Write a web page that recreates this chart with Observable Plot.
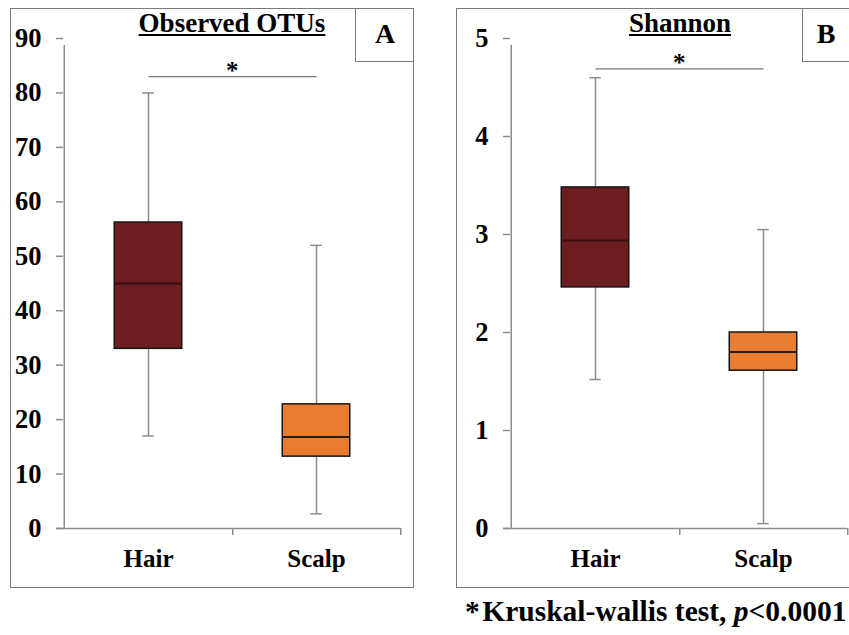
<!DOCTYPE html>
<html><head><meta charset="utf-8">
<script src="https://cdn.jsdelivr.net/npm/d3@7"></script>
<script src="https://cdn.jsdelivr.net/npm/@observablehq/plot@0.6"></script>
<style>
body{margin:0;background:#fff;}
#wrap{position:relative;width:849px;height:635px;overflow:hidden;font-family:"Liberation Serif","Times New Roman",serif;font-weight:bold;color:#000;}
.panel{position:absolute;border:1.5px solid #7a7a7a;box-sizing:border-box;}
.tag{position:absolute;border-left:1.5px solid #7a7a7a;border-bottom:1.5px solid #7a7a7a;box-sizing:border-box;font-size:28px;line-height:52px;text-align:center;}
.title{position:absolute;font-size:27px;line-height:27px;text-decoration:underline;white-space:nowrap;transform:translateX(-50%);}
.plot{position:absolute;top:0;}
.plot svg text{font-family:"Liberation Serif","Times New Roman",serif;}
#caption{position:absolute;left:465px;top:597px;font-size:29.5px;line-height:29.5px;white-space:nowrap;}
</style></head><body>
<div id="wrap">
  <div class="panel" style="left:10px;top:8px;width:404px;height:580px;"></div>
  <div class="panel" style="left:456px;top:8px;width:400px;height:580px;"></div>
  <div id="plotA" class="plot" style="left:0px;"></div>
  <div id="plotB" class="plot" style="left:430px;"></div>
  <div class="title" style="left:232px;top:10px;">Observed OTUs</div>
  <div class="title" style="left:680px;top:10px;">Shannon</div>
  <div class="tag" style="left:355px;top:8px;width:59px;height:54px;">A</div>
  <div class="tag" style="left:802px;top:8px;width:47px;height:54px;">B</div>
  <div id="caption">*&#8202;Kruskal-wallis test, <i>p</i>&lt;0.0001</div>
</div>
<script>
// ---- data ----
const categories = ["Hair", "Scalp"];
const boxFill = ["#6b1d1f", "#e87d31"];
const medianStroke = ["#3a0f10", "#2a1a10"];

// Observed OTUs (panel A)
const otuMin = [17, 2.7];
const otuQ1 = [33, 13.2];
const otuMed = [45, 16.8];
const otuQ3 = [56.2, 22.8];
const otuMax = [80, 52];
const otuTicks = [0, 10, 20, 30, 40, 50, 60, 70, 80, 90];
const otuSig = 83;

// Shannon (panel B)
const shMin = [1.52, 0.05];
const shQ1 = [2.46, 1.61];
const shMed = [2.94, 1.80];
const shQ3 = [3.48, 2.00];
const shMax = [4.6, 3.05];
const shTicks = [0, 1, 2, 3, 4, 5];
const shSig = 4.69;

const serif = "'Liberation Serif', 'Times New Roman', serif";

function panel(el, {min, q1, med, q3, max, ticks, sig, width, marginLeft, marginRight}) {
  const rows = categories.map((c, i) => ({cat: c, min: min[i], q1: q1[i], med: med[i], q3: q3[i], max: max[i], fill: boxFill[i], med2: medianStroke[i]}));
  const bw = (width - marginLeft - marginRight) / categories.length;
  const half = bw / 2;
  const boxInset = half - 34;
  const capInset = half - 6;
  const yDomain = [ticks[0], ticks[ticks.length - 1]];
  const grey = "#8c8c8c";
  const chart = Plot.plot({
    width, height: 600, marginLeft, marginRight, marginTop: 38, marginBottom: 72,
    style: {fontFamily: serif, fontSize: "25px", fontWeight: "bold", background: "transparent", overflow: "visible", color: "#000"},
    x: {domain: categories, padding: 0, axis: null, label: null},
    y: {domain: yDomain, axis: null, label: null},
    marks: [
      // axis lines and boundary ticks
      Plot.ruleY([yDomain[0]], {stroke: grey, strokeWidth: 1.5, insetLeft: -7}),
      Plot.ruleX([categories[0]], {x: d => d, y1: yDomain[0], y2: yDomain[1], dx: -half, stroke: grey, strokeWidth: 1.5, insetBottom: -7}),
      Plot.ruleX(categories, {x: d => d, y1: yDomain[0], y2: yDomain[0], dx: half, stroke: grey, strokeWidth: 1.5, insetBottom: -7}),
      Plot.axisY(ticks, {tickSize: 7, tickPadding: 15, tickFormat: d => String(d), label: null, stroke: grey, strokeWidth: 1.5, fill: "#000", fontSize: 26.5, fontWeight: "bold", fontFamily: serif}),
      Plot.axisX({tickSize: 0, tickPadding: 21, label: null, fill: "#000", fontSize: 25, fontWeight: "bold", fontFamily: serif}),
      // whiskers
      Plot.ruleX(rows, {x: "cat", y1: "min", y2: "max", stroke: grey, strokeWidth: 1.5}),
      Plot.tickY(rows, {x: "cat", y: "min", stroke: grey, strokeWidth: 1.5, insetLeft: capInset, insetRight: capInset}),
      Plot.tickY(rows, {x: "cat", y: "max", stroke: grey, strokeWidth: 1.5, insetLeft: capInset, insetRight: capInset}),
      // boxes
      Plot.barY(rows, {x: "cat", y1: "q1", y2: "q3", fill: "fill", stroke: "#141414", strokeWidth: 1.5, insetLeft: boxInset, insetRight: boxInset}),
      Plot.tickY(rows, {x: "cat", y: "med", stroke: "med2", strokeWidth: 2, insetLeft: boxInset, insetRight: boxInset}),
      // significance
      Plot.link([sig], {x1: () => categories[0], x2: () => categories[1], y1: d => d, y2: d => d, stroke: "#777", strokeWidth: 1.2}),
      Plot.text([sig], {x: () => categories[1], y: d => d, dx: -half, dy: -6, text: () => "*", fontSize: 25, fontWeight: "bold", fontFamily: serif, fill: "#000"})
    ]
  });
  document.getElementById(el).appendChild(chart);
}

panel("plotA", {min: otuMin, q1: otuQ1, med: otuMed, q3: otuQ3, max: otuMax, ticks: otuTicks, sig: otuSig, width: 430, marginLeft: 63, marginRight: 30});
panel("plotB", {min: shMin, q1: shQ1, med: shMed, q3: shQ3, max: shMax, ticks: shTicks, sig: shSig, width: 419, marginLeft: 80, marginRight: 2});
</script>
</body></html>
